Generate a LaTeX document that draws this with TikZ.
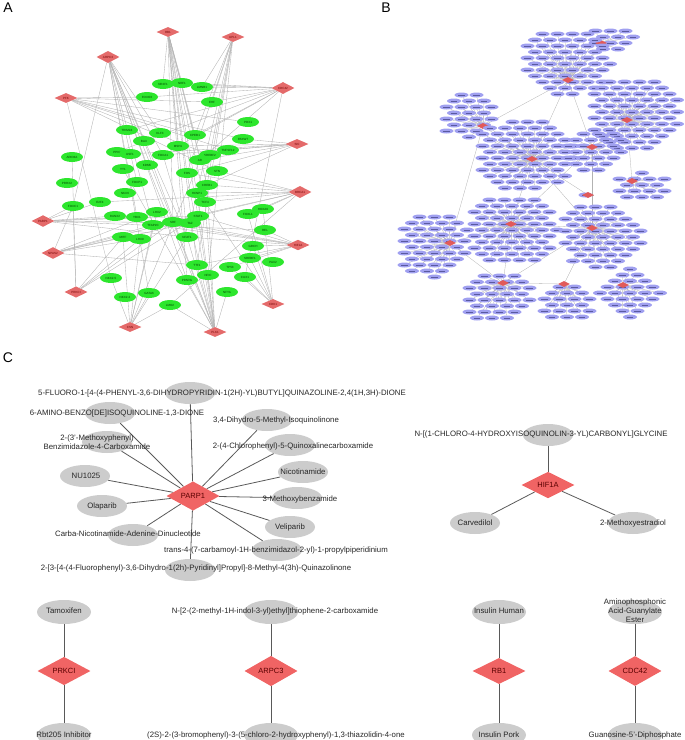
\documentclass[tikz,border=0pt]{standalone}
\usepackage{fontspec}
\setmainfont{Liberation Sans}
\usetikzlibrary{shapes.geometric}
\pgfdeclarelayer{bg}
\pgfsetlayers{bg,main}
\definecolor{greenA}{RGB}{45,230,45}
\definecolor{redA}{RGB}{228,106,106}
\definecolor{purpleB}{RGB}{160,160,240}
\definecolor{markB}{RGB}{90,90,160}
\definecolor{redB}{RGB}{225,90,90}
\definecolor{grayC}{RGB}{204,204,204}
\definecolor{redC}{RGB}{240,100,100}
\newcommand\bloop[5]{% id cx cy rx ry ; body in \bbody
  \foreach \rr in {0,...,\bnr}{%
    \foreach \cc in {0,...,\bnc}{%
      \pgfmathsetmacro\px{#2-#4+\cc*15+mod(\rr,2)*7.5}%
      \pgfmathsetmacro\py{#3-#5+\rr*6}%
      \pgfmathtruncatemacro\ok{((\px-#2)/#4)^2+((\py-#3)/#5)^2<=1}%
      \ifnum\ok=1 \bbody{#1}\fi
    }%
  }%
}
\newcommand\bnodebody[1]{\node[bnode] (B#1n\rr x\cc) at (\px,\py) {};}
\newcommand\bedgebody[1]{\draw[edgeB] (B#1) -- (B#1n\rr x\cc);}
\newcommand\bcluster[7]{%
  \pgfmathtruncatemacro\bnr{2*#7/6}%
  \pgfmathtruncatemacro\bnc{2*#6/15}%
  \let\bbody\bnodebody
  \bloop{#1}{#4}{#5}{#6}{#7}%
  \node[hubB] (B#1) at (#2,#3) {};
  \begin{pgfonlayer}{bg}
  \let\bbody\bedgebody
  \bloop{#1}{#4}{#5}{#6}{#7}%
  \end{pgfonlayer}
}
\begin{document}
\begin{tikzpicture}[x=1pt,y=-1pt,
  panel/.style={font=\fontsize{14}{14}\selectfont},
  hubA/.style={diamond, fill=redA, minimum width=23pt, minimum height=10pt, inner sep=0pt, font=\fontsize{3}{3}\selectfont, text=red!45!black},
  geneA/.style={ellipse, fill=greenA, minimum width=22pt, minimum height=10pt, inner sep=0pt, font=\fontsize{3}{3}\selectfont, text=green!25!black},
  edgeA/.style={draw=gray!60, line width=0.35pt},
  hubB/.style={diamond, fill=redB, minimum width=12pt, minimum height=6pt, inner sep=0pt},
  bnode/.style={ellipse, fill=purpleB, minimum width=14pt, minimum height=5pt, inner sep=0pt,
    path picture={\draw[markB, line width=0.5pt] ([xshift=-3.5pt]path picture bounding box.center) -- ([xshift=3pt]path picture bounding box.center);}},
  edgeB/.style={draw=gray!60, line width=0.3pt},
  hubC/.style={diamond, fill=redC, minimum width=53pt, minimum height=26pt, inner sep=0pt, font=\fontsize{7.5}{8}\selectfont, text=red!35!black},
  drug/.style={ellipse, fill=grayC, minimum width=50pt, minimum height=22pt, inner sep=0pt},
  drugb/.style={ellipse, fill=grayC, minimum width=54pt, minimum height=24pt, inner sep=0pt},
  lab/.style={font=\fontsize{7.8}{8.8}\selectfont, text=black!85, inner sep=0pt, align=center},
  edgeC/.style={draw=gray!70!black, line width=0.8pt}
]
\useasboundingbox (0,0) rectangle (685,740);
\node[panel] (LA) at (8,8) {A};
\node[panel] (LB) at (386,8) {B};
\node[panel] (LC) at (8,358) {C};

% ================= Panel A =================
\foreach \n/\x/\y/\t in {
 h1/168/32/RB1, h2/233/37/UPL1, h3/108/57/ARPC3, h4/283/88/CDC42, h5/66/98/PFK,
 h6/297/144/SKI, h7/300/192/BRCA1, h8/43/221/PARP1, h9/53/253/NPAS2, h10/298/245/HIF1A,
 h11/76/292/PRKCI, h12/273/304/CDK1, h13/130/327/CSN, h14/215/332/PLK1}
 {\node[hubA] (\n) at (\x,\y) {\t};}
\foreach \n/\x/\y/\t in {
 g1/163/84/NR2F1, g2/182/83/NRF1, g3/202/87/LMNB1, g4/147/97/FOXO3, g5/212/102/EHF,
 g6/248/122/PDX1, g7/127/130/TRIM24, g8/160/133/KLF3, g9/144/141/BAX, g10/195/135/CPEB1,
 g11/243/139/FBXW7, g12/228/150/TNFSF12, g13/72/157/ARID3A, g14/117/152/PPIG, g15/130/154/USF1,
 g16/163/155/FOXA1, g17/178/146/MSH1, g18/210/155/SREBF2, g19/200/160/AR, g20/123/169/YY1,
 g21/147/165/KDM5, g22/187/173/FOS, g23/217/171/STN, g24/67/183/PRRX2, g25/137/182/FOXP1,
 g26/207/185/CREB1, g27/125/193/NKX6, g28/197/193/HCNP1, g29/73/206/FOXC1, g30/100/202/E2F4,
 g31/205/202/TCF4, g32/115/216/RUNX2, g33/137/217/YBX1, g34/157/212/LHX2, g35/198/216/STAT1,
 g36/153/225/TFAP2C, g37/173/222/SRF, g38/190/223/TAZ, g39/248/214/FOXL1, g40/263/209/HOXA9,
 g41/265/230/REL, g42/123/237/MITF, g43/140/239/LHX9, g44/187/237/NFAT1, g45/253/246/GRCH,
 g46/250/258/SREBF1, g47/273/262/PAX2, g48/197/265/TTF1, g49/230/267/TP53, g50/208/275/NFIC,
 g51/187/280/PPARG, g52/245/277/CUX1, g53/111/278/NKX2-5, g54/125/297/NKX2-2, g55/149/293/GATA6,
 g56/227/292/NFYA, g57/170/305/LMO2}
 {\node[geneA] (\n) at (\x,\y) {\t};}
\begin{pgfonlayer}{bg}
\foreach \h/\lst in {
 h1/{g1,g2,g10,g17,g22,g28,g35,g37,g44,g48,g51,g19,g26,g31},
 h2/{g3,g22,g26,g35,g38,g48,g50,g5,g10},
 h3/{g8,g9,g16,g21,g33,g36,g37,g44,g51,g29,g55,g25},
 h4/{g1,g2,g3,g4,g5,g10,g17,g14,g7,g19,g52},
 h5/{g5,g10,g11,g18,g12,g23,g6,g53,g4},
 h6/{g11,g12,g19,g22,g26,g17,g15,g16},
 h7/{g23,g28,g31,g35,g26,g22,g39,g40,g36,g57,g30},
 h8/{g29,g30,g32,g33,g35,g38,g44,g41},
 h9/{g29,g42,g43,g37,g38,g48,g36,g34},
 h10/{g41,g45,g46,g44,g48,g35,g37,g49,g36,g32},
 h11/{g29,g13,g42,g43,g35,g37},
 h12/{g45,g46,g49,g52,g39,g40,g31},
 h13/{g53,g55,g57,g42,g43,g44,g36,g34,g19},
 h14/{g48,g50,g51,g56,g57,g22,g26,g28,g31,g35,g37,g38,g20,g21,g16,g9}}
 {\foreach \g in \lst {\draw[edgeA] (\h) -- (\g);}}
\end{pgfonlayer}

% ================= Panel B =================
\bcluster{1}{601}{43}{612}{40}{24}{15}
\bcluster{2}{568}{80}{566}{62}{46}{34}
\bcluster{3}{627}{120}{635}{114}{48}{38}
\bcluster{4}{483}{126}{466}{114}{27}{25}
\bcluster{5}{532}{159}{525}{154}{50}{38}
\bcluster{6}{592}{147}{593}{150}{32}{22}
\bcluster{7}{632}{181}{642}{188}{30}{15}
\bcluster{8}{588}{195}{588}{195}{10}{6}
\bcluster{9}{511}{224}{513}{230}{46}{36}
\bcluster{10}{592}{228}{600}{235}{42}{34}
\bcluster{11}{450}{243}{432}{245}{35}{34}
\bcluster{12}{503}{283}{497}{297}{35}{27}
\bcluster{13}{564}{284}{565}{302}{28}{21}
\bcluster{14}{623}{285}{630}{293}{30}{24}
\begin{pgfonlayer}{bg}
\foreach \a/\b in {B2/B4,B2/B5,B2/B6,B4/B5,B5/B9,B5/B10,B6/B9,B9/B11,B9/B12,B10/B13,B10/B12,B11/B12,B6/B10,B3/B7,B5/B8,B12/B13,B9/B10,B4/B11}
 {\draw[edgeB] (\a) -- (\b);}
\end{pgfonlayer}

% ================= Panel C =================
\node[hubC] (parp) at (193,496) {PARP1};
\node[drug] (d1) at (190,393) {};
\node[drug] (d2) at (110,413) {};
\node[drug] (d3) at (267,420) {};
\node[drug] (d4) at (107,442) {};
\node[drug] (d5) at (290,445) {};
\node[drug] (d6) at (85,476) {};
\node[drug] (d7) at (303,472) {};
\node[drug] (d8) at (297,498) {};
\node[drug] (d9) at (102,506) {};
\node[drug] (d10) at (290,527) {};
\node[drug] (d11) at (133,535) {};
\node[drug] (d12) at (277,550) {};
\node[drug] (d13) at (190,570) {};
\begin{pgfonlayer}{bg}
\foreach \d in {d1,d2,d3,d4,d5,d6,d7,d8,d9,d10,d11,d12,d13} {\draw[edgeC] (parp) -- (\d);}
\end{pgfonlayer}
\node[lab] (t1) at (222,393) {5-FLUORO-1-[4-(4-PHENYL-3,6-DIHYDROPYRIDIN-1(2H)-YL)BUTYL]QUINAZOLINE-2,4(1H,3H)-DIONE};
\node[lab] (t2) at (117,413) {6-AMINO-BENZO[DE]ISOQUINOLINE-1,3-DIONE};
\node[lab] (t3) at (276,420) {3,4-Dihydro-5-Methyl-Isoquinolinone};
\node[lab] (t4) at (97,442) {2-(3'-Methoxyphenyl)\\Benzimidazole-4-Carboxamide};
\node[lab] (t5) at (293,446) {2-(4-Chlorophenyl)-5-Quinoxalinecarboxamide};
\node[lab] (t6) at (86,476) {NU1025};
\node[lab] (t7) at (303,472) {Nicotinamide};
\node[lab] (t8) at (300,499) {3-Methoxybenzamide};
\node[lab] (t9) at (102,506) {Olaparib};
\node[lab] (t10) at (290,527) {Veliparib};
\node[lab] (t11) at (128,534) {Carba-Nicotinamide-Adenine-Dinucleotide};
\node[lab] (t12) at (276,550) {trans-4-(7-carbamoyl-1H-benzimidazol-2-yl)-1-propylpiperidinium};
\node[lab] (t13) at (196,568) {2-[3-[4-(4-Fluorophenyl)-3,6-Dihydro-1(2h)-Pyridinyl]Propyl]-8-Methyl-4(3h)-Quinazolinone};

% HIF1A
\node[hubC] (hif) at (548,485) {HIF1A};
\node[drug] (e1) at (548,435) {};
\node[drug] (e2) at (475,523) {};
\node[drug] (e3) at (633,523) {};
\begin{pgfonlayer}{bg}
\foreach \d in {e1,e2,e3} {\draw[edgeC] (hif) -- (\d);}
\end{pgfonlayer}
\node[lab] (u1) at (541,434) {N-[(1-CHLORO-4-HYDROXYISOQUINOLIN-3-YL)CARBONYL]GLYCINE};
\node[lab] (u2) at (475,523) {Carvedilol};
\node[lab] (u3) at (633,523) {2-Methoxyestradiol};

% small networks
\foreach \h/\hx/\hl/\ta/\tb/\sa/\sb in {
  prk/64/PRKCI/Tamoxifen/Rbt205 Inhibitor/64/64,
  arp/271/ARPC3/{N-[2-(2-methyl-1H-indol-3-yl)ethyl]thiophene-2-carboxamide}/{(2S)-2-(3-bromophenyl)-3-(5-chloro-2-hydroxyphenyl)-1,3-thiazolidin-4-one}/275/276,
  rb/499/RB1/Insulin Human/Insulin Pork/499/499,
  cdc/635/CDC42/{Aminophosphonic\\Acid-Guanylate\\Ester}/Guanosine-5'-Diphosphate/635/635}
{
  \node[hubC] (\h) at (\hx,671) {\hl};
  \node[drugb] (\h a) at (\hx,612) {};
  \node[drugb] (\h b) at (\hx,735) {};
  \begin{pgfonlayer}{bg}
    \draw[edgeC] (\h) -- (\h a);
    \draw[edgeC] (\h) -- (\h b);
  \end{pgfonlayer}
  \node[lab] (\h ta) at (\sa,611) {\ta};
  \node[lab] (\h tb) at (\sb,735) {\tb};
}
\end{tikzpicture}
\end{document}
